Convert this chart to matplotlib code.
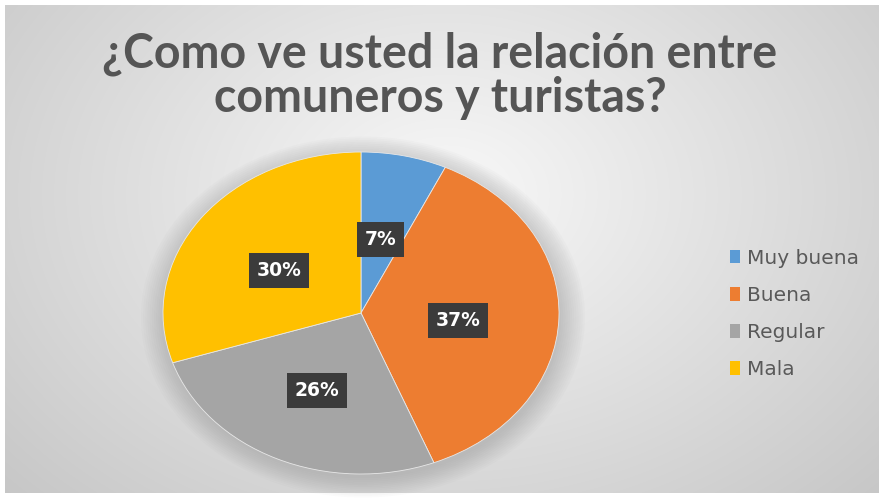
import numpy as np
import matplotlib
matplotlib.use("Agg")
import matplotlib.pyplot as plt
from matplotlib.patches import Patch, Ellipse

# data
categories = ["Muy buena", "Buena", "Regular", "Mala"]
values = [7, 37, 26, 30]
colors = ["#5B9BD5", "#ED7D31", "#A5A5A5", "#FFC000"]
title = "¿Como ve usted la relación entre\ncomuneros y turistas?"

W, H = 880, 498
fig = plt.figure(figsize=(W / 100, H / 100), dpi=100)
fig.patch.set_facecolor("white")

# radial gradient background of the chart area
bg = fig.add_axes([5 / W, 5 / H, 873 / W, 488 / H])
yy, xx = np.mgrid[0:488, 0:873]
d = np.sqrt(((xx - 440) / 520.0) ** 2 + ((yy - 190) / 380.0) ** 2)
shade = np.clip(0.975 - 0.17 * d, 0.78, 1.0)
bg.imshow(np.dstack([shade] * 3), aspect="auto", interpolation="bilinear")
bg.axis("off")

# pie axes (stretched into an ellipse like the reference)
pl, pb, pw, ph = 163, 24, 396, 322
ax = fig.add_axes([pl / W, pb / H, pw / W, ph / H])

# soft shadow under the pie
for k in range(12):
    s = 1.0 + 0.011 * k
    ax.add_patch(Ellipse((0.01, -0.025), 2 * s, 2 * s, color="#808080",
                         alpha=0.03, lw=0, zorder=0, clip_on=False))

wedges, texts, autotexts = ax.pie(
    values, colors=colors, startangle=90, counterclock=False,
    autopct="%d%%", pctdistance=0.5,
    wedgeprops=dict(linewidth=0.6, edgecolor="#e8e8e8"),
    textprops=dict(color="white", fontsize=13.5, fontweight="bold",
                   family="DejaVu Sans"))
for t in autotexts:
    x, y = t.get_position()
    t.set_position((x - 0.01, y - 0.03))
    t.set_bbox(dict(boxstyle="square,pad=0.42", facecolor="#3b3b3b",
                    edgecolor="none"))
    t.set_zorder(5)
ax.set_aspect("auto")
ax.set_xlim(-1, 1)
ax.set_ylim(-1, 1)
ax.axis("off")

fig.text(0.5, 1 - 76 / H, title, ha="center", va="center", fontsize=33.5,
         color="#555555", family="Lato", fontweight="bold",
         linespacing=1.0)

handles = [Patch(facecolor=c, edgecolor="none") for c in colors]
fig.legend(handles, categories, loc="center left",
           bbox_to_anchor=(712 / W, 1 - 314 / H), frameon=False,
           labelcolor="#595959", handlelength=0.5, handleheight=0.65,
           handletextpad=0.35, labelspacing=0.9,
           prop=dict(family="DejaVu Sans", size=14.5))

fig.savefig("out.png", dpi=100)
